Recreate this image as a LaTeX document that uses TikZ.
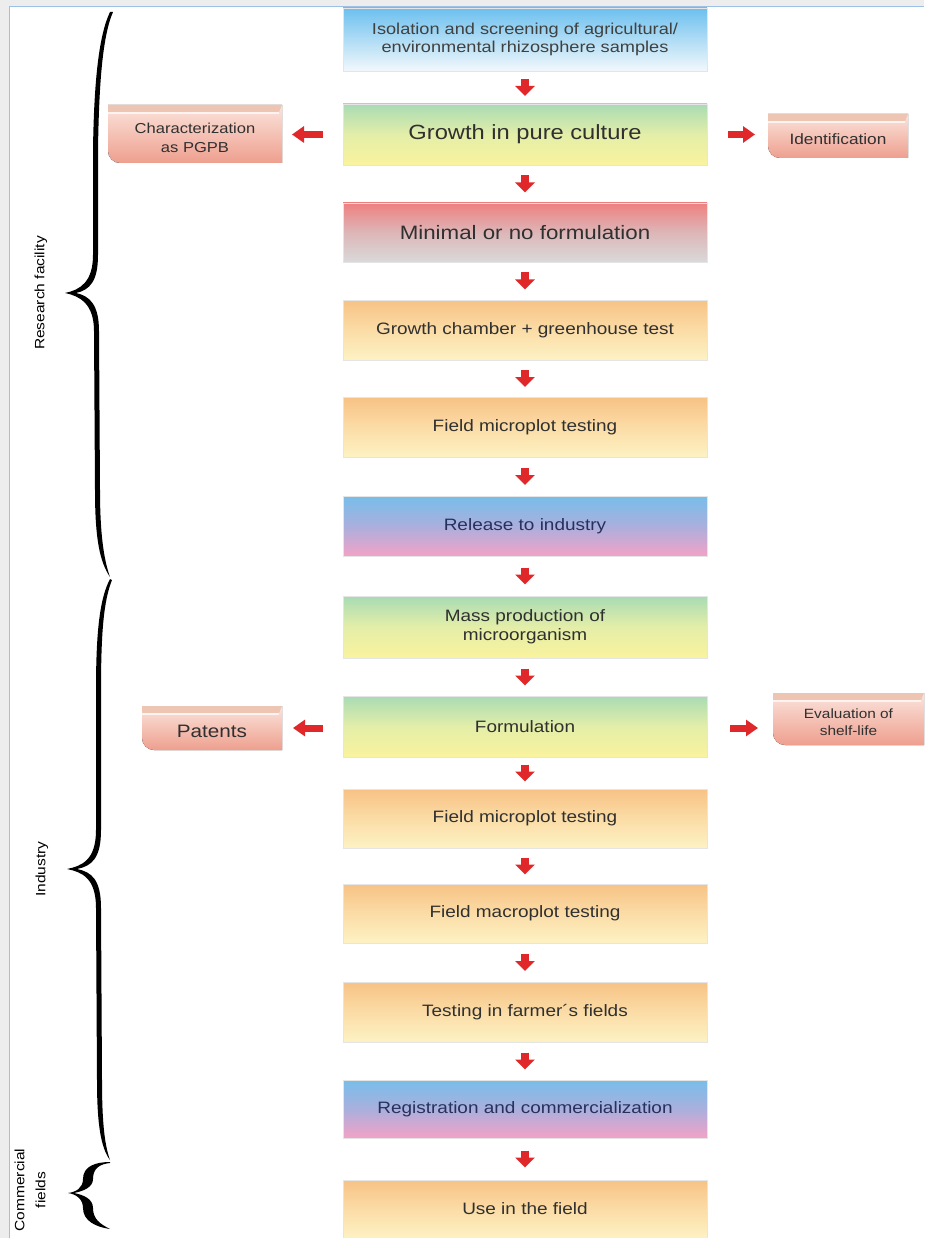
\documentclass[tikz,border=0pt]{standalone}
\usepackage{fontspec}
\setmainfont{Liberation Sans}[FakeStretch=1.15]
\usetikzlibrary{arrows.meta,backgrounds}
\definecolor{txt}{HTML}{303030}
\definecolor{navy}{HTML}{27315C}
\definecolor{arrred}{HTML}{E0282A}
\definecolor{frameg}{HTML}{EDEDED}
\definecolor{frameb}{HTML}{9CC0E6}
\definecolor{sideTop}{HTML}{FBE4DC}
\definecolor{sideBot}{HTML}{EE9F8E}
\definecolor{sideBand}{HTML}{EEC4B2}
\newcommand\mysidebox[1]{%
  \fill[top color=sideTop, bottom color=sideBot]
    ([yshift=7pt]#1.north west) -- ([yshift=12pt]#1.south west)
    arc[start angle=180,end angle=270,radius=12pt]
    -- (#1.south east) -- ([yshift=7pt]#1.north east) -- cycle;
  \fill[sideBand] ([yshift=7pt]#1.north west) -- ([yshift=7pt]#1.north east)
    -- ([xshift=-3pt]#1.north east) -- (#1.north west) -- cycle;
  \draw[white!60!sideTop, line width=1.2pt] ([yshift=-1pt]#1.north west) -- ([xshift=-3pt,yshift=-1pt]#1.north east);
}
\begin{document}
\begin{tikzpicture}[x=1pt,y=-1pt,
  box/.style={draw=black!10, minimum width=364pt, minimum height=60pt, outer sep=0pt,
    inner sep=2pt, align=center, font=\fontsize{16.5}{19}\selectfont, text=txt},
  blueW/.style={top color=HTMLblueA, bottom color=HTMLblueB},
  greenY/.style={top color=grA, bottom color=grC, middle color=grB},
  redG/.style={top color=rdA, bottom color=rdC, middle color=rdB},
  orangeY/.style={top color=orA, bottom color=orC, middle color=orB},
  bluePink/.style={top color=bpA, bottom color=bpC, middle color=bpB, text=navy},
  side/.style={outer sep=0pt, inner sep=1pt, align=center, text=txt},
  dn/.style={draw=arrred, line width=8pt, -{Triangle[width=19pt,length=10pt]},
    shorten <=#1, shorten >=#1},
  harr/.style 2 args={draw=arrred, line width=7pt, -{Triangle[width=16pt,length=12pt]},
    shorten <=#1, shorten >=#2},
  lab/.style={rotate=90, text=black, align=center, font=\fontsize{13.5}{21}\selectfont}
]
\definecolor{HTMLblueA}{HTML}{6CC0EE}
\definecolor{HTMLblueB}{HTML}{F2F8FC}
\definecolor{grA}{HTML}{A8DBB4}
\definecolor{grB}{HTML}{E4EEA8}
\definecolor{grC}{HTML}{F9F39D}
\definecolor{rdA}{HTML}{EE8080}
\definecolor{rdB}{HTML}{DDB6B8}
\definecolor{rdC}{HTML}{D9D9D9}
\definecolor{orA}{HTML}{F7C285}
\definecolor{orB}{HTML}{FBDCA6}
\definecolor{orC}{HTML}{FDF2C4}
\definecolor{bpA}{HTML}{78BEEA}
\definecolor{bpB}{HTML}{AAAFDD}
\definecolor{bpC}{HTML}{F3A2C6}

\useasboundingbox (0,0) rectangle (924,1238);

% main boxes
\node[box, blueW, minimum height=63pt, font=\fontsize{15.8}{18}\selectfont, text=black!75] (b1) at (525,39.5)
  {Isolation and screening of agricultural/\\environmental rhizosphere samples};
\node[box, greenY, minimum height=61pt, font=\fontsize{20.6}{24}\selectfont] (b2) at (525,134.5) {Growth in pure culture};
\node[box, redG, minimum height=59pt, font=\fontsize{19.4}{23}\selectfont] (b3) at (525,232.5) {Minimal or no formulation};
\node[box, orangeY] (b4) at (525,330) {Growth chamber + greenhouse test};
\node[box, orangeY] (b5) at (525,427) {Field microplot testing};
\node[box, bluePink] (b6) at (525,526) {Release to industry};
\node[box, greenY, minimum height=62pt] (b7) at (525,627) {Mass production of\\microorganism};
\node[box, greenY, minimum height=61pt] (b8) at (525,726.5) {Formulation};
\node[box, orangeY, minimum height=59pt] (b9) at (525,818.5) {Field microplot testing};
\node[box, orangeY, minimum height=59pt] (b10) at (525,913.5) {Field macroplot testing};
\node[box, orangeY] (b11) at (525,1012) {Testing in farmer´s fields};
\node[box, bluePink, minimum height=58pt] (b12) at (525,1109) {Registration and commercialization};
\node[box, orangeY, minimum height=58pt] (b13) at (525,1209) {Use in the field};

% side boxes
\node[side, minimum width=174pt, minimum height=51pt, font=\fontsize{14.4}{19}\selectfont] (char) at (195,137.5) {Characterization\\as PGPB};
\node[side, minimum width=140pt, minimum height=37pt, font=\fontsize{15}{18}\selectfont] (ident) at (838,139.5) {Identification};
\node[side, minimum width=140pt, minimum height=37pt, font=\fontsize{18}{21}\selectfont] (pat) at (212,731.5) {Patents};
\node[side, minimum width=151pt, minimum height=45pt, font=\fontsize{13.4}{17}\selectfont] (eval) at (848.5,722.5) {Evaluation of\\shelf-life};
\begin{scope}[on background layer]
  % frame
  \fill[white] (0,0) rectangle (924,1238);
  \fill[frameg] (0,0) rectangle (924,6);
  \fill[frameg] (0,0) rectangle (9,1238);
  \draw[frameb, line width=1pt] (924,6.5) -- (9.5,6.5) -- (9.5,1238);
  \mysidebox{char}
  \mysidebox{ident}
  \mysidebox{pat}
  \mysidebox{eval}
\end{scope}

% vertical arrows
\draw[dn=8pt] (b1) -- (b2);
\draw[dn=10.5pt] (b2) -- (b3);
\draw[dn=10.5pt] (b3) -- (b4);
\draw[dn=10pt] (b4) -- (b5);
\draw[dn=11pt] (b5) -- (b6);
\draw[dn=11.5pt] (b6) -- (b7);
\draw[dn=10.5pt] (b7) -- (b8);
\draw[dn=7.5pt] (b8) -- (b9);
\draw[dn=9.5pt] (b9) -- (b10);
\draw[dn=11pt] (b10) -- (b11);
\draw[dn=10.5pt] (b11) -- (b12);
\draw[dn=12.5pt] (b12) -- (b13);

% horizontal arrows
\draw[harr={20pt}{10pt}] (b2.west) -- (b2.west -| char.east);
\draw[harr={21pt}{13pt}] (b2.east) -- (b2.east -| ident.west);
\draw[harr={20pt}{11pt}] ([yshift=-1.5pt]b8.west) -- ([yshift=-1.5pt]b8.west -| pat.east);
\draw[harr={23pt}{15pt}] ([yshift=-1.5pt]b8.east) -- ([yshift=-1.5pt]b8.east -| eval.west);

% braces
\fill[black] (110,12) .. controls (99,35) and (94,80) .. (93,150) -- (93,255)
  .. controls (93,282) and (80,290) .. (65,293)
  .. controls (80,296) and (94,304) .. (94,331) -- (95,490)
  .. controls (95,540) and (100,562) .. (110,577)
  .. controls (104,560) and (100,535) .. (100,490) -- (99,331)
  .. controls (99,305) and (90,296) .. (76,293)
  .. controls (90,290) and (98,281) .. (98,255) -- (98,150)
  .. controls (99,80) and (103,35) .. (113,12) -- cycle;
\fill[black] (110,579) .. controls (100,598) and (96,630) .. (96,690) -- (96,830)
  .. controls (96,860) and (82,866) .. (67,869)
  .. controls (82,872) and (96,878) .. (96,908) -- (97,1080)
  .. controls (97,1125) and (101,1148) .. (110,1160)
  .. controls (105,1146) and (102,1125) .. (102,1080) -- (101,908)
  .. controls (101,880) and (92,872) .. (77,869)
  .. controls (92,866) and (101,858) .. (101,830) -- (101,690)
  .. controls (101,630) and (104,600) .. (112,580) -- cycle;
\fill[black] (110,1162) .. controls (96,1162) and (83,1166) .. (83,1179)
  .. controls (83,1188) and (76,1192) .. (68,1193)
  .. controls (76,1194) and (83,1199) .. (83,1208)
  .. controls (83,1221) and (96,1227) .. (110,1229)
  .. controls (100,1224) and (93,1219) .. (93,1208)
  .. controls (93,1199) and (84,1195) .. (74,1193)
  .. controls (84,1191) and (93,1187) .. (93,1179)
  .. controls (93,1168) and (100,1164) .. (110,1163) -- cycle;

% brace labels
\node[lab] (lrf) at (41,293) {Research facility};
\node[lab] (lind) at (42,869) {Industry};
\node[lab] (lcom) at (30,1190) {Commercial\\fields};
\end{tikzpicture}
\end{document}
